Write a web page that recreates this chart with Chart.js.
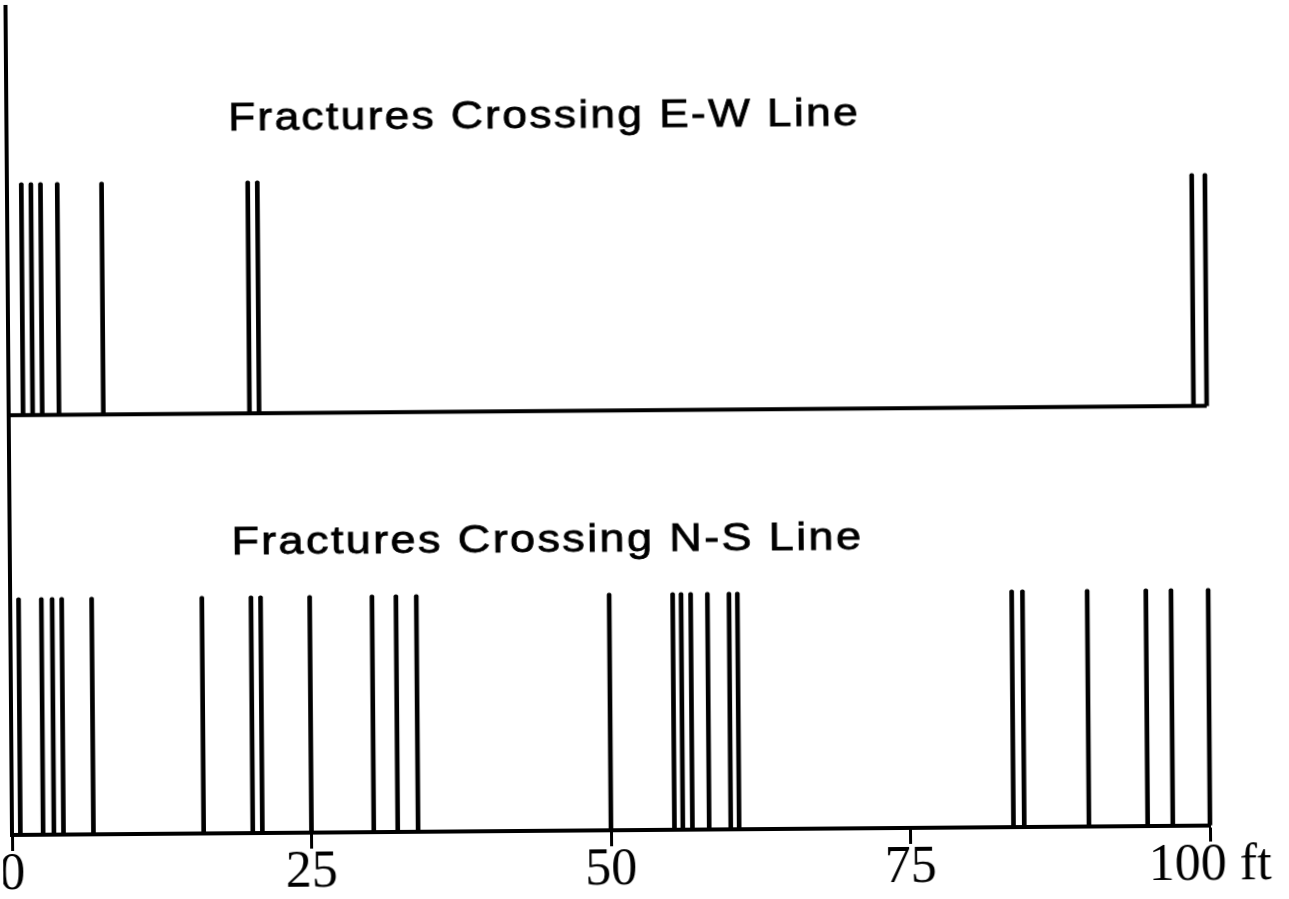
<!DOCTYPE html>
<html>
<head>
<meta charset="utf-8">
<title>Fractures crossing E-W and N-S lines</title>
<script src="https://cdn.jsdelivr.net/npm/chart.js@4.4.1/dist/chart.umd.min.js"></script>
<style>
  html, body { margin: 0; padding: 0; background: #fff; }
  #wrap { width: 1289px; height: 899px; transform: rotate(-0.45deg); }
</style>
</head>
<body>
<div id="wrap"><canvas id="myChart" width="1289" height="899"></canvas></div>
<script>
// fracture positions along each 100 ft traverse (ft)
const ewFractures = [1.2, 2.0, 2.8, 4.2, 7.9, 20.1, 20.9, 98.9, 100];
const nsFractures = [0.7, 2.6, 3.5, 4.3, 6.8, 16.0, 20.1, 20.9, 25, 30.2, 32.2, 33.9, 50,
                     55.3, 56.0, 56.8, 58.2, 60.0, 60.7, 83.6, 84.5, 89.9, 94.8, 96.9, 100];
const distanceTicks = [0, 25, 50, 75, 100];
const lineEnds = [0, 100];

// strip levels: N-S strip sits on the axis, E-W strip above it
const nsBase = 0, nsTop = 1;
const ewBase = 1.77, ewTop = 2.75;

const panelTitles = ['Fractures Crossing E-W Line', 'Fractures Crossing N-S Line'];
const titleX = [18.5, 18.5];
const titleY = [2.963, 1.175];

const ink = '#000';
const cxt = document.getElementById('myChart').getContext('2d');

// strip titles, drawn wide like the old laser-printer Helvetica
const panelTitlesPlugin = {
  id: 'panelTitles',
  afterDraw(chart) {
    const {ctx, scales: {x, y}} = chart;
    ctx.save();
    ctx.fillStyle = ink;
    ctx.strokeStyle = ink;
    ctx.lineWidth = 0.8;
    ctx.font = '38px "Liberation Sans", Arial, sans-serif';
    ctx.letterSpacing = '2px';
    ctx.textBaseline = 'alphabetic';
    panelTitles.forEach((t, i) => {
      const w = ctx.measureText(t).width;
      ctx.save();
      ctx.translate(x.getPixelForValue(titleX[i]), y.getPixelForValue(titleY[i]));
      ctx.scale(632 / w, 1);
      ctx.fillText(t, 0, 0);
      ctx.strokeText(t, 0, 0);
      ctx.restore();
    });
    ctx.restore();
  }
};

const myChart = new Chart(cxt, {
  type: 'bar',
  data: {
    datasets: [
      {
        label: 'E-W',
        data: ewFractures.map(v => ({x: v, y: [ewBase, ewTop]})),
        backgroundColor: ink,
        barThickness: 4,
        grouped: false,
        borderRadius: 2,
        clip: false
      },
      {
        label: 'N-S',
        data: nsFractures.map(v => ({x: v, y: [nsBase, nsTop]})),
        backgroundColor: ink,
        barThickness: 4,
        grouped: false,
        borderRadius: 2,
        clip: false
      },
      {
        type: 'line',
        label: 'E-W line',
        data: lineEnds.map(v => ({x: v, y: ewBase})),
        borderColor: ink,
        borderWidth: 4,
        pointRadius: 0,
        clip: false
      }
    ]
  },
  options: {
    responsive: false,
    animation: false,
    layout: {padding: {left: 9, right: 82, top: 0, bottom: 0}},
    plugins: {legend: {display: false}, tooltip: {enabled: false}},
    scales: {
      x: {
        type: 'linear',
        min: 0,
        max: 100,
        offset: false,
        afterBuildTicks: s => { s.ticks = distanceTicks.map(v => ({value: v})); },
        // keep the axis band fixed so the plot bottom lands at y = 830
        afterFit: s => { s.paddingLeft = 0; s.paddingRight = 0; s.height = 69; },
        grid: {offset: false, drawOnChartArea: false, drawTicks: true, tickLength: 16, tickWidth: 3, tickColor: ink},
        border: {display: true, color: ink, width: 4},
        ticks: {
          color: ink,
          padding: 5,
          maxRotation: 0,
          autoSkip: false,
          font: {family: '"Liberation Serif", "Times New Roman", serif', size: 52, lineHeight: 0.73},
          callback: v => v === 100 ? '100 ft' : String(v)
        }
      },
      y: {
        type: 'linear',
        min: 0,
        max: 3.5,
        grid: {display: true, drawOnChartArea: false, drawTicks: false},
        border: {display: true, color: ink, width: 4},
        ticks: {display: false}
      }
    }
  },
  plugins: [panelTitlesPlugin]
});
</script>
</body>
</html>
